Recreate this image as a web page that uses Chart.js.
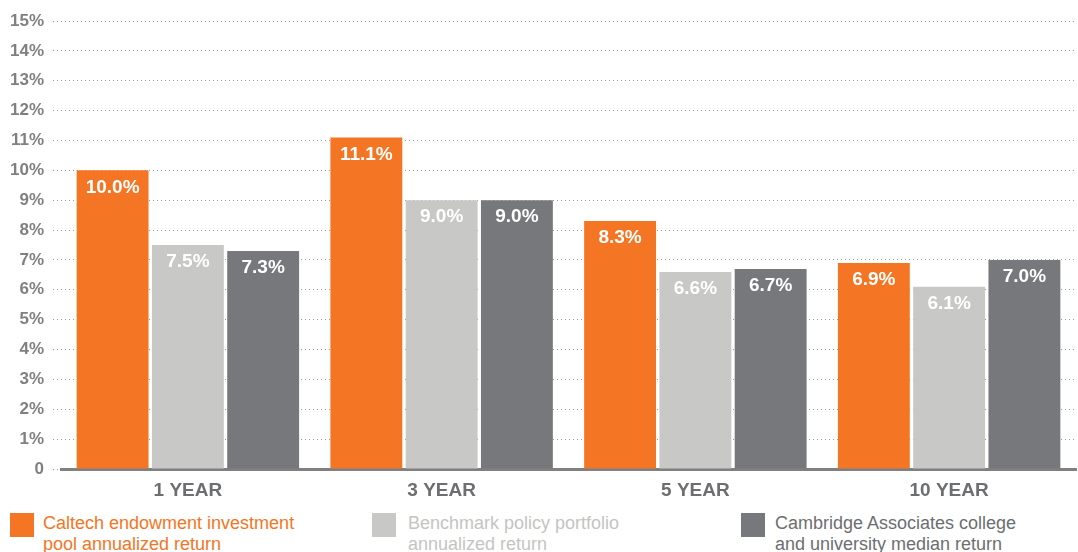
<!DOCTYPE html>
<html>
<head>
<meta charset="utf-8">
<script src="https://cdn.jsdelivr.net/npm/chart.js@4"></script>
<style>
  html, body { margin: 0; padding: 0; background: #fff; }
  body { width: 1078px; height: 552px; position: relative; overflow: hidden; font-family: "Liberation Sans", Arial, sans-serif; }
  .chart-box { position: absolute; left: 0; top: 0; width: 1078px; height: 500px; }
  .legend-item { position: absolute; top: 513px; font-size: 18px; line-height: 21px; }
  .legend-item .sw { position: absolute; left: 0; top: 0; width: 24px; height: 24px; }
  .legend-item .txt { position: absolute; top: 0; white-space: nowrap; }
</style>
</head>
<body>
<div class="chart-box"><canvas id="c"></canvas></div>
<div id="legend"></div>
<script>
const periods = ['1 YEAR', '3 YEAR', '5 YEAR', '10 YEAR'];
const caltech = [10.0, 11.1, 8.3, 6.9];
const benchmark = [7.5, 9.0, 6.6, 6.1];
const cambridge = [7.3, 9.0, 6.7, 7.0];
const seriesNames = [
  ['Caltech endowment investment', 'pool annualized return'],
  ['Benchmark policy portfolio', 'annualized return'],
  ['Cambridge Associates college', 'and university median return'],
];
const colors = ['#f47524', '#c8c8c6', '#77787b'];
const legendText = ['#f47524', '#c4c4c2', '#6d6e71'];

// white value labels near top of each bar
const valueLabels = {
  id: 'valueLabels',
  afterDatasetsDraw(chart) {
    const ctx = chart.ctx;
    ctx.save();
    ctx.fillStyle = '#fff';
    ctx.font = 'bold 19px "Liberation Sans", Arial, sans-serif';
    ctx.textAlign = 'center';
    ctx.textBaseline = 'middle';
    chart.data.datasets.forEach((ds, i) => {
      chart.getDatasetMeta(i).data.forEach((bar, j) => {
        ctx.fillText(ds.data[j].toFixed(1) + '%', bar.x, bar.y + 17);
      });
    });
    ctx.restore();
  }
};

new Chart(document.getElementById('c'), {
  type: 'bar',
  data: {
    labels: periods,
    datasets: [
      { label: seriesNames[0].join(' '), data: caltech, backgroundColor: colors[0] },
      { label: seriesNames[1].join(' '), data: benchmark, backgroundColor: colors[1] },
      { label: seriesNames[2].join(' '), data: cambridge, backgroundColor: colors[2] },
    ],
  },
  options: {
    responsive: true,
    maintainAspectRatio: false,
    animation: false,
    layout: { padding: { top: 21, right: 2, left: 0, bottom: 0 } },
    datasets: { bar: { categoryPercentage: 0.89, barPercentage: 0.955 } },
    plugins: { legend: { display: false }, tooltip: { enabled: false } },
    scales: {
      x: {
        grid: { display: false, drawTicks: false },
        border: { display: true, color: '#808080', width: 3 },
        ticks: { color: '#6d6e71', padding: 10, font: { family: '"Liberation Sans", Arial, sans-serif', size: 19, weight: 'bold' } },
        afterFit(scale) { scale.height = 31; },
      },
      y: {
        min: 0,
        max: 15,
        ticks: {
          stepSize: 1,
          padding: 9,
          color: '#808080',
          font: { family: '"Liberation Sans", Arial, sans-serif', size: 17, weight: 'bold' },
          callback: v => v === 0 ? '0' : v + '%',
        },
        grid: { color: '#9a9a9a', lineWidth: 1, tickLength: 8, tickColor: '#9a9a9a', tickBorderDash: [1, 3] },
        border: { display: false, dash: [1, 3] },
        afterFit(scale) { scale.width = 61; },
      },
    },
  },
  plugins: [valueLabels],
});

// legend below the plot
const legendPos = [{ sw: 10, txt: 43 }, { sw: 372, txt: 408 }, { sw: 741, txt: 775 }];
document.getElementById('legend').innerHTML = seriesNames.map((n, i) => `
  <div class="legend-item" style="left:${legendPos[i].sw}px">
    <div class="sw" style="background:${colors[i]}"></div>
    <div class="txt" style="left:${legendPos[i].txt - legendPos[i].sw}px;color:${legendText[i]}">${n[0]}<br>${n[1]}</div>
  </div>`).join('');
</script>
</body>
</html>
